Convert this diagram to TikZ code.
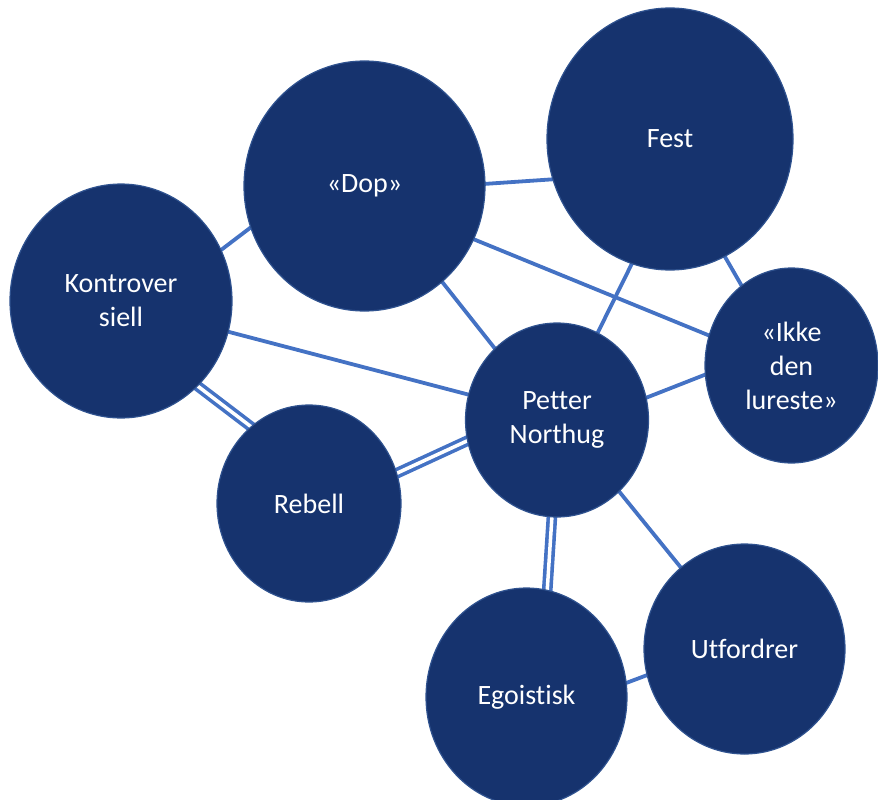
\documentclass[tikz,border=0pt]{standalone}
\usepackage{fontspec}
\setmainfont{Carlito}[Ligatures=NoCommon]
\usetikzlibrary{shapes.geometric}
\definecolor{bubblefill}{RGB}{22,51,110}
\definecolor{bubbleedge}{RGB}{47,82,143}
\definecolor{linkblue}{RGB}{68,114,196}
\pgfdeclarelayer{back}
\pgfsetlayers{back,main}

\begin{document}
\begin{tikzpicture}[x=1pt,y=-1pt,
  bubble/.style={ellipse, fill=bubblefill, draw=bubbleedge, line width=1.2pt,
    text=white, font=\fontsize{28}{34}\selectfont, align=center,
    inner sep=0pt, outer sep=0pt},
  link/.style={draw=linkblue, line width=3.8pt, shorten <=-6pt, shorten >=-6pt},
  dlink/.style={link, line width=3.6pt, double=white, double distance=3.5pt}]
\useasboundingbox (0,0) rectangle (878,800);

% concept bubbles
\node[bubble, minimum width=222pt, minimum height=234pt] (kontr) at (121,301) {Kontrover\\siell};
\node[bubble, minimum width=241pt, minimum height=250pt] (dop)   at (364.5,186) {«Dop»};
\node[bubble, minimum width=246pt, minimum height=262pt] (fest)  at (670,139) {Fest};
\node[bubble, minimum width=173pt, minimum height=195pt] (ikke)  at (791.5,365.5) {«Ikke\\den\\lureste»};
\node[bubble, minimum width=183pt, minimum height=194pt] (petter) at (557,420) {Petter\\Northug};
\node[bubble, minimum width=184pt, minimum height=197pt] (rebell) at (309,503.5) {Rebell};
\node[bubble, minimum width=201pt, minimum height=218pt] (ego)   at (526.5,697) {Egoistisk};
\node[bubble, minimum width=201pt, minimum height=210pt] (utf)   at (744.5,649) {Utfordrer};

% connectors behind the bubbles
\begin{pgfonlayer}{back}
  \draw[link]  (kontr.27)   -- (dop.200);
  \draw[link]  (kontr.344)  -- (petter.164.5);
  \draw[dlink] (kontr.312)  -- (rebell.127);
  \draw[link]  (dop.1)      -- (fest.199);
  \draw[link]  (dop.309)    -- (petter.131.5);
  \draw[link]  (dop.334)    -- (ikke.160);
  \draw[link]  (fest.253)   -- (petter.65);
  \draw[link]  (fest.295)   -- (ikke.122);
  \draw[link]  (petter.14)  -- (ikke.186);
  \draw[dlink] (rebell.19.7) -- (petter.193);
  \draw[dlink] (petter.267.6) -- (ego.79.7);
  \draw[link]  (petter.311) -- (utf.128);
  \draw[link]  (ego.8)      -- (utf.195.6);
\end{pgfonlayer}
\end{tikzpicture}
\end{document}
